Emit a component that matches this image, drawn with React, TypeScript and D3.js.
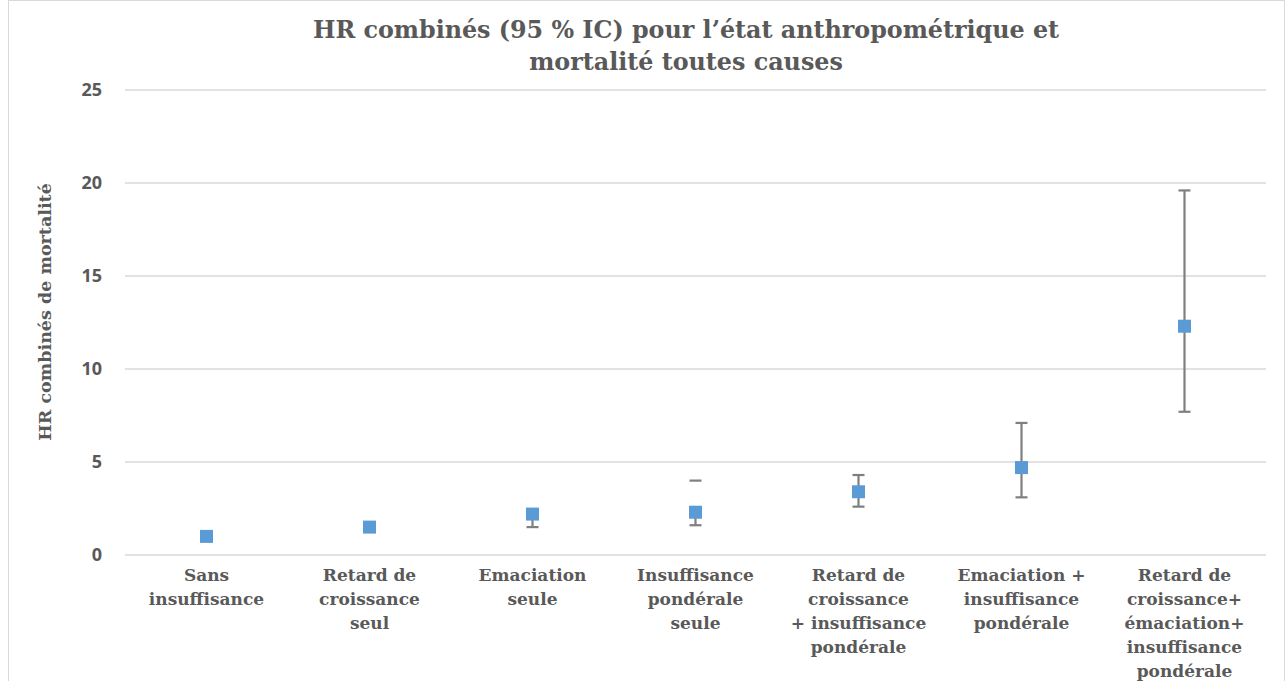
import React from "react";
import * as d3 from "d3";

const categories: string[][] = [
  ["Sans", "insuffisance"],
  ["Retard de", "croissance", "seul"],
  ["Emaciation", "seule"],
  ["Insuffisance", "pondérale", "seule"],
  ["Retard de", "croissance", "+ insuffisance", "pondérale"],
  ["Emaciation +", "insuffisance", "pondérale"],
  ["Retard de", "croissance+", "émaciation+", "insuffisance", "pondérale"],
];
const hrValues = [1.0, 1.5, 2.2, 2.3, 3.4, 4.7, 12.3];
const ciLow: (number | null)[] = [null, null, 1.5, 1.6, 2.6, 3.1, 7.7];
const ciHigh: (number | null)[] = [null, null, 2.3, 4.0, 4.3, 7.1, 19.6];
const yTicks = [0, 5, 10, 15, 20, 25];

const W = 1286;
const H = 681;
const left = 125;
const right = 1266;
const top = 90;
const bottom = 555;

export default function App() {
  const x = d3
    .scaleBand<number>()
    .domain(categories.map((_, i) => i))
    .range([left, right]);
  const y = d3.scaleLinear().domain([0, 25]).range([bottom, top]);
  const gray = "#595959";
  const serif = "'DejaVu Serif', Georgia, serif";
  const sans = "'Open Sans', 'Liberation Sans', sans-serif";
  const ms = 13;
  return (
    <svg
      width={W}
      height={H}
      style={{ position: "absolute", left: 0, top: 0, background: "#fff" }}
    >
      <rect x={8.5} y={0.5} width={1276} height={720} fill="#fff" stroke="#d9d9d9" strokeWidth={1} />
      <text
        x={686}
        y={38}
        textAnchor="middle"
        fontFamily={serif}
        fontWeight="bold"
        fontSize={23.8}
        fill={gray}
      >
        <tspan x={686} y={38}>HR combinés (95 % IC) pour l’état anthropométrique et</tspan>
        <tspan x={686} y={70}>mortalité toutes causes</tspan>
      </text>
      {yTicks.map((t) => (
        <g key={t}>
          <line x1={left} x2={right} y1={y(t)} y2={y(t)} stroke="#d9d9d9" strokeWidth={1.5} />
          <text
            x={102}
            y={y(t)}
            dy="0.35em"
            textAnchor="end"
            fontFamily={sans}
            fontWeight="bold"
            fontSize={18}
            fill={gray}
          >
            {t}
          </text>
        </g>
      ))}
      <text
        transform={`translate(51, ${312}) rotate(-90)`}
        textAnchor="middle"
        fontFamily={serif}
        fontWeight="bold"
        fontSize={17.5}
        fill={gray}
      >
        HR combinés de mortalité
      </text>
      {categories.map((lines, i) => {
        const cx = (x(i) as number) + x.bandwidth() / 2;
        return (
          <text
            key={i}
            textAnchor="middle"
            fontFamily={serif}
            fontWeight="bold"
            fontSize={17}
            fill={gray}
          >
            {lines.map((l, j) => (
              <tspan key={j} x={cx} y={581 + j * 24}>
                {l}
              </tspan>
            ))}
          </text>
        );
      })}
      {hrValues.map((v, i) => {
        const cx = (x(i) as number) + x.bandwidth() / 2;
        const lo = ciLow[i];
        const hi = ciHigh[i];
        const cap = 6;
        return (
          <g key={i}>
            {lo !== null && hi !== null && (
              <g stroke="#7f7f7f" strokeWidth={2.2}>
                <line
                  x1={cx}
                  x2={cx}
                  y1={y(lo)}
                  y2={i === 3 ? y(v) : y(hi)}
                />
                <line x1={cx - cap} x2={cx + cap} y1={y(lo)} y2={y(lo)} />
                <line x1={cx - cap} x2={cx + cap} y1={y(hi)} y2={y(hi)} />
              </g>
            )}
            <rect
              x={cx - ms / 2}
              y={y(v) - ms / 2}
              width={ms}
              height={ms}
              fill="#5b9bd5"
            />
          </g>
        );
      })}
    </svg>
  );
}
